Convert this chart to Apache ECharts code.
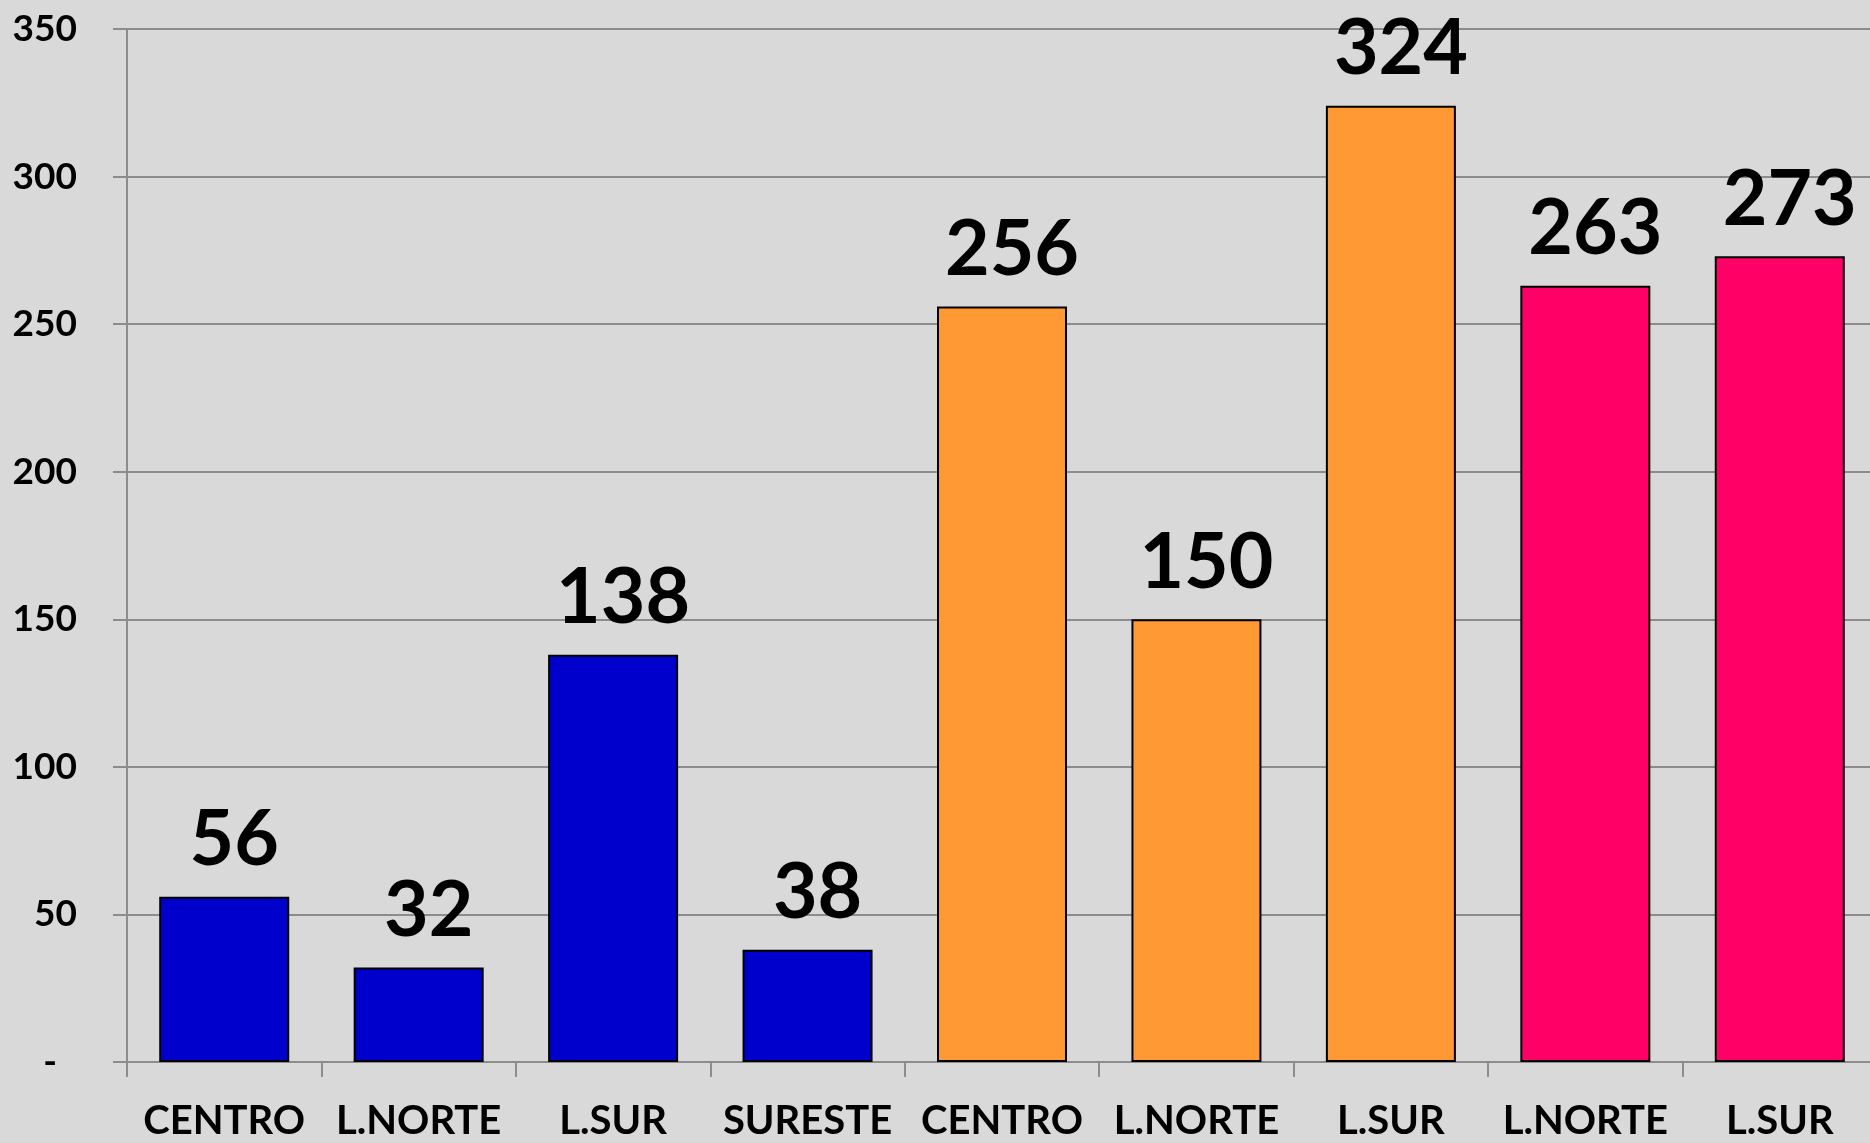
<!DOCTYPE html>
<html>
<head>
<meta charset="utf-8">
<script src="https://cdn.jsdelivr.net/npm/echarts@6/dist/echarts.min.js"></script>
<style>
html,body{margin:0;padding:0;background:#D9D9D9;overflow:hidden;width:1870px;height:1143px;}
#chart{width:1877px;height:1143px;}
</style>
</head>
<body>
<div id="chart"></div>
<script>
const categories = ['CENTRO','L.NORTE','L.SUR','SURESTE','CENTRO','L.NORTE','L.SUR','L.NORTE','L.SUR'];
const values = [56, 32, 138, 38, 256, 150, 324, 263, 273];
const groups = ['A','A','A','A','B','B','B','C','C'];
const yTicks = [0, 50, 100, 150, 200, 250, 300, 350];

const groupColors = {A:'#0000CC', B:'#FF9933', C:'#FF0066'};
const FONT = 'Lato';

const chart = echarts.init(document.getElementById('chart'));
chart.setOption({
  backgroundColor:'#D9D9D9',
  animation:false,
  grid:{left:127, right:0, top:29, bottom:81, containLabel:false},
  xAxis:{
    type:'category',
    data:categories,
    boundaryGap:true,
    axisLine:{show:true, lineStyle:{color:'#8C8C8C', width:2}},
    axisTick:{show:true, alignWithLabel:false, length:15, lineStyle:{color:'#8C8C8C', width:2}},
    axisLabel:{color:'#000', fontFamily:FONT, fontWeight:'bold', fontSize:40, margin:39, interval:0}
  },
  yAxis:{
    type:'value',
    min:yTicks[0], max:yTicks[yTicks.length-1], interval:50,
    axisLine:{show:true, lineStyle:{color:'#8C8C8C', width:2}},
    axisTick:{show:true, inside:false, length:14, lineStyle:{color:'#8C8C8C', width:2}},
    splitLine:{show:true, lineStyle:{color:'#8C8C8C', width:2}},
    axisLabel:{
      color:'#000', fontFamily:FONT, fontWeight:'bold', fontSize:37, margin:50,
      formatter:function(v){ return v===0 ? '{d|-}' : String(v); },
      rich:{d:{color:'#000', fontFamily:FONT, fontWeight:'bold', fontSize:37, padding:[0,20,0,0]}}
    }
  },
  series:[{
    type:'bar',
    barWidth:130,
    data:values.map((v,i)=>({value:v, itemStyle:{color:groupColors[groups[i]]}})),
    itemStyle:{borderColor:'#000', borderWidth:2},
    label:{show:true, position:'top', distance:18, offset:[10,0], color:'#000', fontFamily:FONT, fontWeight:'bold', fontSize:77}
  }]
});
</script>
</body>
</html>
